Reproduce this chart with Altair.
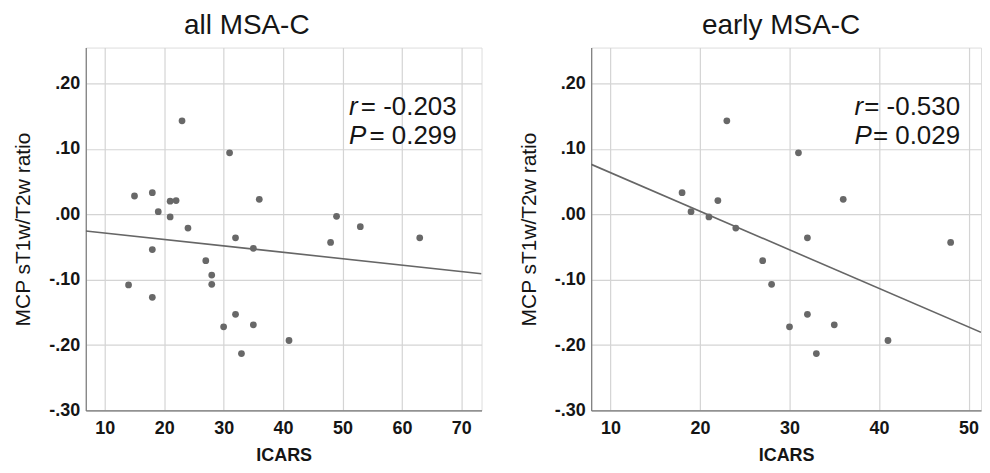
import altair as alt
import pandas as pd

# ---- data ----
all_icars = [23, 31, 15, 18, 21, 22, 19, 21, 36, 24, 49, 53, 63, 48, 32, 35, 18,
             27, 28, 28, 14, 18, 32, 30, 35, 41, 33]
all_ratio = [0.143, 0.094, 0.028, 0.033, 0.020, 0.021, 0.004, -0.004, 0.023, -0.021,
             -0.003, -0.019, -0.036, -0.043, -0.036, -0.052, -0.054,
             -0.071, -0.093, -0.107, -0.108, -0.127, -0.153, -0.172, -0.169, -0.193, -0.213]

early_icars = [23, 31, 18, 22, 19, 21, 36, 24, 32, 48, 27, 28, 32, 30, 35, 41, 33]
early_ratio = [0.143, 0.094, 0.033, 0.021, 0.004, -0.004, 0.023, -0.021, -0.036, -0.043,
               -0.071, -0.107, -0.153, -0.172, -0.169, -0.193, -0.213]

titles = ["all MSA-C", "early MSA-C"]
r_texts = ["= -0.203", "= -0.530"]
p_texts = ["= 0.299", "= 0.029"]
y_ticks = [-0.30, -0.20, -0.10, 0.00, 0.10, 0.20]
x_ticks_all = [10, 20, 30, 40, 50, 60, 70]
x_ticks_early = [10, 20, 30, 40, 50]

FONT = "Liberation Sans"
PT_COLOR = "#686868"
TXT = "#151515"

Y_LABEL_EXPR = ("replace(replace(format(datum.value, '.2f'), '0.', '.'), "
                "'\u2212', '-')")


def panel(xs, ys, title, r_txt, p_txt, x_dom, x_ticks, width, title_dx, txt_left, txt_right):
    df = pd.DataFrame({"ICARS": xs, "ratio": ys})
    base = alt.Chart(df)
    xenc = alt.X("ICARS:Q", scale=alt.Scale(domain=x_dom, nice=False, zero=False),
                 axis=alt.Axis(values=x_ticks, title="ICARS", ticks=False,
                               labelFontWeight="bold", labelFontSize=18, labelFont=FONT,
                               labelColor=TXT, labelPadding=9,
                               titleFont=FONT, titleFontSize=18, titleFontWeight="bold",
                               titleColor=TXT, titlePadding=9,
                               domainColor="#7a7a7a", domainWidth=1.2,
                               gridColor="#d4d4d4", gridWidth=1.2))
    yenc = alt.Y("ratio:Q", scale=alt.Scale(domain=[-0.30, 0.255], nice=False, zero=False),
                 axis=alt.Axis(values=y_ticks, title="MCP sT1w/T2w ratio", ticks=False,
                               labelExpr=Y_LABEL_EXPR,
                               labelFontSize=18, labelFont=FONT, labelColor=TXT,
                               labelFontWeight="bold", labelPadding=6,
                               titleFont=FONT, titleFontSize=21, titleFontWeight="normal",
                               titleColor=TXT, titlePadding=15,
                               domainColor="#7a7a7a", domainWidth=1.2,
                               gridColor="#d4d4d4", gridWidth=1.2))
    pts = base.mark_circle(size=46, color=PT_COLOR, opacity=1).encode(x=xenc, y=yenc)
    line = base.transform_regression("ICARS", "ratio", extent=x_dom).mark_line(
        color="#666666", strokeWidth=1.6, clip=True).encode(x="ICARS:Q", y="ratio:Q")
    tdf = pd.DataFrame({"r": [r_txt], "p": [p_txt]})
    tb = alt.Chart(tdf)
    common = dict(font=FONT, fontSize=26, color=TXT, baseline="alphabetic")
    r_i = tb.mark_text(text="r", align="left", fontStyle="italic", **common).encode(
        x=alt.value(txt_left), y=alt.value(68))
    r_v = tb.mark_text(align="right", **common).encode(
        x=alt.value(txt_right), y=alt.value(68), text="r:N")
    p_i = tb.mark_text(text="P", align="left", fontStyle="italic", **common).encode(
        x=alt.value(txt_left), y=alt.value(97))
    p_v = tb.mark_text(align="right", **common).encode(
        x=alt.value(txt_right), y=alt.value(97), text="p:N")
    return alt.layer(line, pts, r_i, r_v, p_i, p_v).properties(
        width=width, height=364,
        title=alt.TitleParams(text=title, font=FONT, fontSize=28, fontWeight="normal",
                              color=TXT, dx=title_dx, offset=8, anchor="middle"))


left = panel(all_icars, all_ratio, titles[0], r_texts[0], p_texts[0],
             [6.8, 73.4], x_ticks_all, 397, -37, 264, 372)
right = panel(early_icars, early_ratio, titles[1], r_texts[1], p_texts[1],
              [7.85, 51.39], x_ticks_early, 391, -5, 264, 370)

chart = alt.hconcat(left, right, spacing=35).properties(
    padding={"left": 4, "top": 2, "right": 0, "bottom": 0}
).configure_view(stroke=None).configure(background="white")

chart.save("out.html", embed_options={"renderer": "svg", "actions": False})
